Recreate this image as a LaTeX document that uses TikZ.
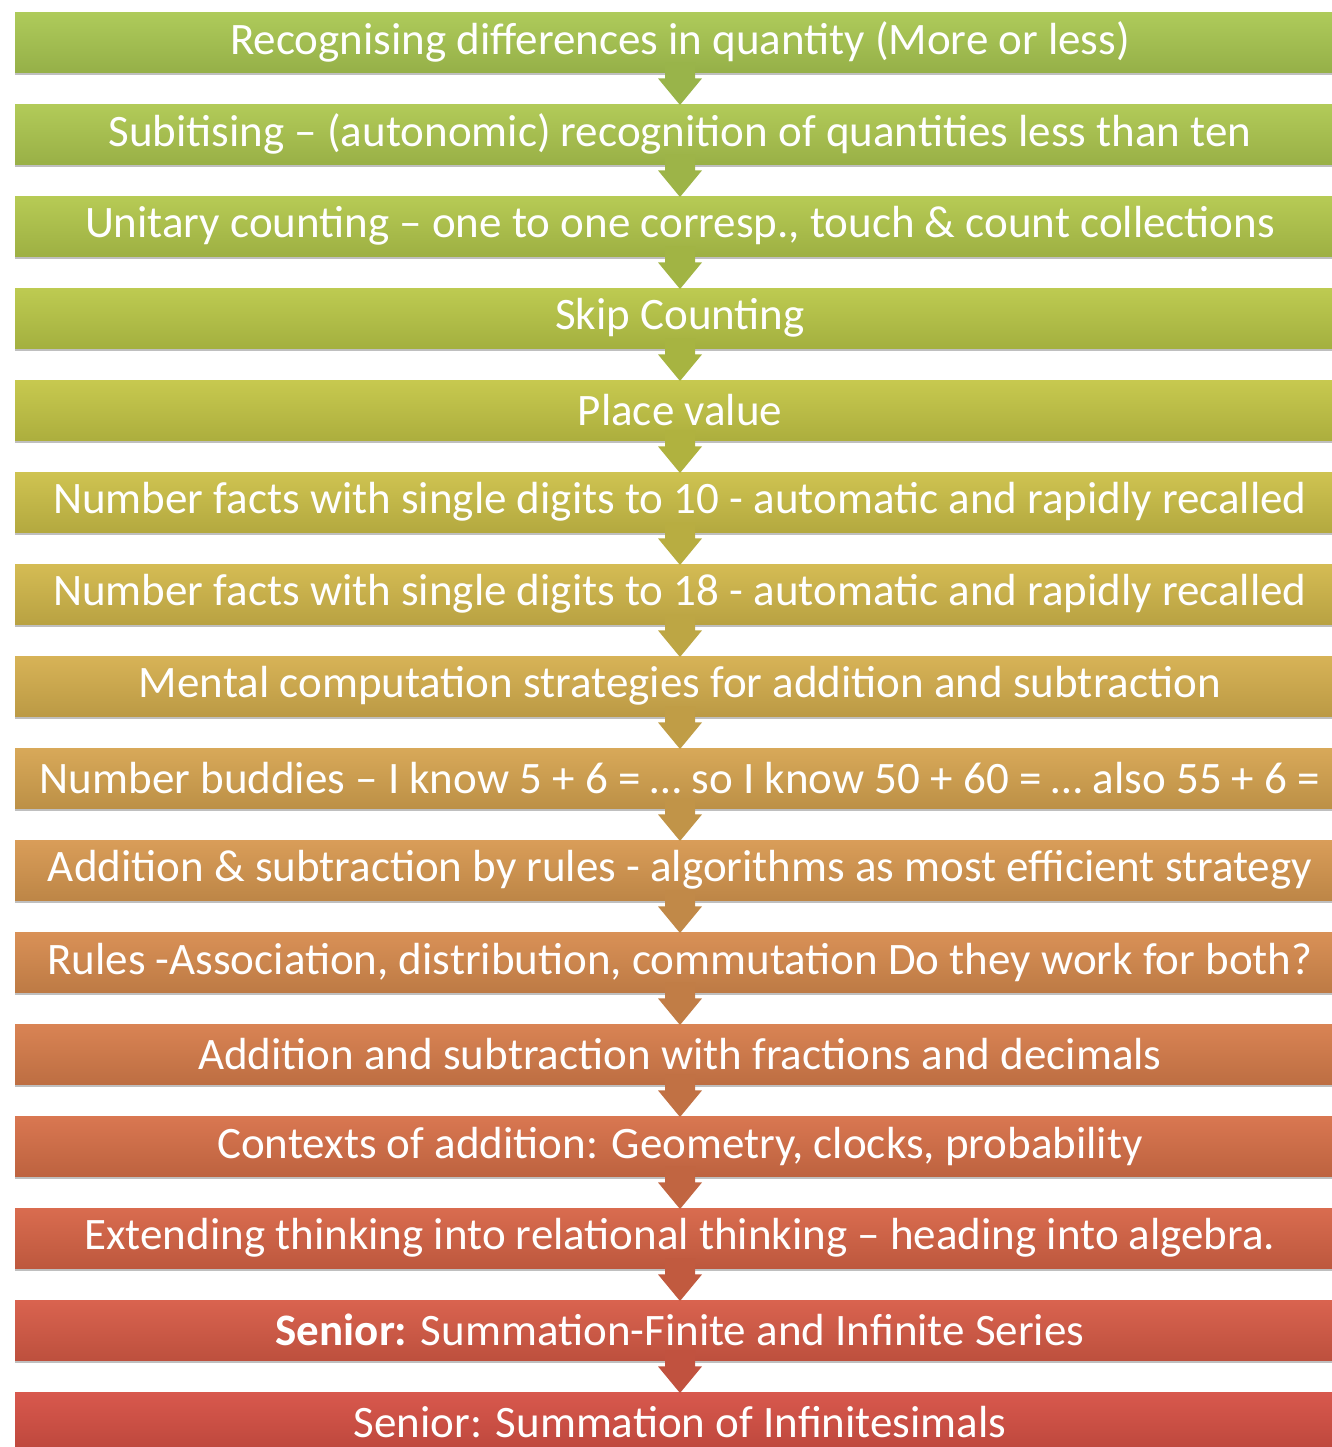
\documentclass[tikz,border=0pt]{standalone}
\usepackage{fontspec}
\setmainfont{Carlito}
\usetikzlibrary{calc,shadows}
\definecolor{c1}{RGB}{170,200,82}
\definecolor{c2}{RGB}{174,200,80}
\definecolor{c3}{RGB}{179,200,76}
\definecolor{c4}{RGB}{186,200,72}
\definecolor{c5}{RGB}{196,198,70}
\definecolor{c6}{RGB}{204,192,72}
\definecolor{c7}{RGB}{210,184,75}
\definecolor{c8}{RGB}{213,175,78}
\definecolor{c9}{RGB}{214,164,80}
\definecolor{c10}{RGB}{215,152,80}
\definecolor{c11}{RGB}{215,139,78}
\definecolor{c12}{RGB}{215,125,75}
\definecolor{c13}{RGB}{215,112,72}
\definecolor{c14}{RGB}{215,100,70}
\definecolor{c15}{RGB}{215,91,70}
\definecolor{c16}{RGB}{214,80,68}
\tikzset{
  box/.style={anchor=north, minimum width=1330pt, minimum height=60pt, inner sep=0pt,
    text=white, font=\fontsize{45}{50}\selectfont,
    execute at begin node={\lower3pt\hbox\bgroup}, execute at end node={\egroup},
    drop shadow={shadow xshift=0pt, shadow yshift=-3pt, opacity=0.25, fill=black}},
  bc/.style={top color=#1!95!white, middle color=#1, bottom color=#1!88!black},
  arr/.style={fill=#1!90!black}
}
\begin{document}
\begin{tikzpicture}[x=1pt,y=-1pt]
\useasboundingbox[fill=white] (0,0) rectangle (1331,1447);
\node[box, bc=c1]  (b1)  at (680,12)   {Recognising differences in quantity (More or less)};
\node[box, bc=c2]  (b2)  at (680,104)  {Subitising – (autonomic) recognition of quantities less than ten};
\node[box, bc=c3]  (b3)  at (680,196)  {Unitary counting – one to one corresp., touch \& count collections};
\node[box, bc=c4]  (b4)  at (680,288)  {Skip Counting};
\node[box, bc=c5]  (b5)  at (680,380)  {Place value};
\node[box, bc=c6]  (b6)  at (680,472)  {Number facts with single digits to 10 - automatic and rapidly recalled};
\node[box, bc=c7]  (b7)  at (680,564)  {Number facts with single digits to 18 - automatic and rapidly recalled};
\node[box, bc=c8]  (b8)  at (680,656)  {Mental computation strategies for addition and subtraction};
\node[box, bc=c9]  (b9)  at (680,748)  {Number buddies – I know 5 + 6 = … so I know 50 + 60 = … also 55 + 6 =};
\node[box, bc=c10] (b10) at (680,840)  {Addition \& subtraction by rules - algorithms as most efficient strategy};
\node[box, bc=c11] (b11) at (680,932)  {Rules -Association, distribution, commutation Do they work for both?};
\node[box, bc=c12] (b12) at (680,1024) {Addition and subtraction with fractions and decimals};
\node[box, bc=c13] (b13) at (680,1116) {Contexts of addition: Geometry, clocks, probability};
\node[box, bc=c14] (b14) at (680,1208) {Extending thinking into relational thinking – heading into algebra.};
\node[box, bc=c15] (b15) at (680,1300) {\textbf{Senior:} Summation-Finite and Infinite Series};
\node[box, bc=c16] (b16) at (680,1392) {Senior: Summation of Infinitesimals};
\foreach \i in {1,...,15}{
  \pgfmathtruncatemacro{\j}{\i+1}
  \fill[arr=c\i] ($(b\i.south)+(-15,-10)$) -- ($(b\i.south)+(15,-10)$) -- ($(b\i.south)+(15,6)$)
    -- ($(b\i.south)+(22,6)$) -- ($(b\j.north)+(0,1)$) -- ($(b\i.south)+(-22,6)$)
    -- ($(b\i.south)+(-15,6)$) -- cycle;
}
\end{tikzpicture}
\end{document}
